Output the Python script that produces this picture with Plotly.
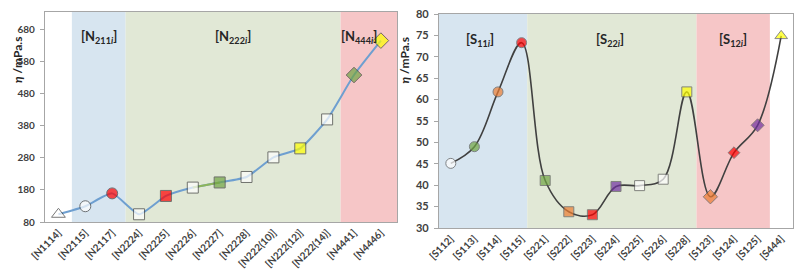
import plotly.graph_objects as go

# ---- data: left panel (ammonium ILs) ----
n_cats = ["[N1114]", "[N2115]", "[N2117]", "[N2224]", "[N2225]", "[N2226]", "[N2227]",
          "[N2228]", "[N222(10)]", "[N222(12)]", "[N222(14)]", "[N4441]", "[N4446]"]
n_eta = [104, 129, 169, 104, 161, 187, 203, 220, 281, 309, 399, 537, 644]

# ---- data: right panel (sulfonium ILs) ----
s_cats = ["[S112]", "[S113]", "[S114]", "[S115]", "[S221]", "[S222]", "[S223]", "[S224]",
          "[S225]", "[S226]", "[S228]", "[S123]", "[S124]", "[S125]", "[S444]"]
s_eta = [45.1, 49.0, 61.8, 73.3, 41.1, 33.8, 33.1, 39.7, 39.9, 41.4, 61.8, 37.3, 47.6, 54.0, 74.9]

# group labels
n_groups = ["[N<sub>211<i>i</i></sub>]", "[N<sub>222<i>i</i></sub>]", "[N<sub>444<i>i</i></sub>]"]
s_groups = ["[S<sub>11<i>i</i></sub>]", "[S<sub>22<i>i</i></sub>]", "[S<sub>12<i>i</i></sub>]"]

# ---- styles ----
WHITE, RED, GREEN, YELLOW, ORANGE, PURPLE = "#FFFFFF", "#FF0000", "#70A543", "#FFFF00", "#ED7D31", "#7030A0"
n_colors = [WHITE, WHITE, RED, WHITE, RED, WHITE, GREEN, WHITE, WHITE, YELLOW, WHITE, GREEN, YELLOW]
n_symbols = ["triangle-up", "circle", "circle", "square", "square", "square", "square", "square",
             "square", "square", "square", "diamond", "diamond"]
n_sizes = [12, 11, 11, 11, 11, 11, 11, 11, 11, 11, 11, 12, 12]
s_colors = [WHITE, GREEN, ORANGE, RED, GREEN, ORANGE, RED, PURPLE, WHITE, WHITE, YELLOW,
            ORANGE, RED, PURPLE, YELLOW]
s_symbols = ["circle", "circle", "circle", "circle", "square", "square", "square", "square",
             "square", "square", "square", "diamond", "diamond", "diamond", "triangle-up"]
s_sizes = [10, 10, 10, 10, 10, 10, 10, 10, 10, 10, 10, 11, 9, 10, 11]

BLUE_BG, GREEN_BG, RED_BG = "#D7E5F0", "#E1E8D6", "#F6C6C7"
FONT = "Lato"
TXT = "#404040"

fig = go.Figure()

# left line (smoothed) + green segment
fig.add_trace(go.Scatter(x=n_cats, y=n_eta, mode="lines", xaxis="x", yaxis="y",
                         line=dict(color="#6E9FD0", width=2, shape="spline", smoothing=0.5),
                         hoverinfo="skip", showlegend=False))
fig.add_trace(go.Scatter(x=n_cats[5:7], y=n_eta[5:7], mode="lines", xaxis="x", yaxis="y",
                         line=dict(color="#8DB55A", width=2), hoverinfo="skip", showlegend=False))
fig.add_trace(go.Scatter(x=n_cats, y=n_eta, mode="markers", xaxis="x", yaxis="y",
                         marker=dict(color=n_colors, symbol=n_symbols, size=n_sizes,
                                     line=dict(color="#404040", width=1)),
                         cliponaxis=False, showlegend=False))

# right line (smoothed)
fig.add_trace(go.Scatter(x=s_cats, y=s_eta, mode="lines", xaxis="x2", yaxis="y2",
                         line=dict(color="#404040", width=1.6, shape="spline", smoothing=1.0),
                         hoverinfo="skip", showlegend=False))
fig.add_trace(go.Scatter(x=s_cats, y=s_eta, mode="markers", xaxis="x2", yaxis="y2",
                         marker=dict(color=s_colors, symbol=s_symbols, size=s_sizes,
                                     line=dict(color="#595959", width=1)),
                         cliponaxis=False, showlegend=False))

shapes = []
for x0, x1, c in [(0.5, 2.5, BLUE_BG), (2.5, 10.5, GREEN_BG), (10.5, 12.6, RED_BG)]:
    shapes.append(dict(type="rect", xref="x", yref="y domain", x0=x0, x1=x1, y0=0, y1=1,
                       fillcolor=c, line=dict(width=0), layer="below"))
for x0, x1, c in [(-0.5, 3.24, BLUE_BG), (3.24, 10.41, GREEN_BG), (10.41, 13.52, RED_BG)]:
    shapes.append(dict(type="rect", xref="x2", yref="y2 domain", x0=x0, x1=x1, y0=0, y1=1,
                       fillcolor=c, line=dict(width=0), layer="below"))

annotations = []
for txt, xc in zip(n_groups, [1.5, 6.5, 11.2]):
    annotations.append(dict(x=xc, y=0.935, xref="x", yref="y domain", text="<b>" + txt + "</b>",
                            showarrow=False, font=dict(family=FONT, size=13, color="#262626")))
for txt, xc in zip(s_groups, [1.23, 6.75, 11.95]):
    annotations.append(dict(x=xc, y=0.93, xref="x2", yref="y2 domain", text="<b>" + txt + "</b>",
                            showarrow=False, font=dict(family=FONT, size=13, color="#262626")))
for xp, yp in [(8 / 800, 1 - 34 / 274), (404 / 800, 1 - 35 / 274)]:
    annotations.append(dict(x=xp, y=yp, xref="paper", yref="paper", textangle=-90,
                            text="<b><i>η</i> /mPa.s</b>", showarrow=False,
                            font=dict(family=FONT, size=12, color="#262626")))

axis_common = dict(showgrid=False, zeroline=False, showline=True, linecolor="#A6A6A6",
                   linewidth=1.2, mirror=True, automargin=False)
ltickfont = dict(family=FONT, size=10, color=TXT, weight="bold")
rtickfont = dict(family=FONT, size=11, color=TXT, weight="bold")
xtickfont = dict(family=FONT, size=10, color=TXT, weight="bold")

fig.update_layout(
    width=800, height=274, margin=dict(l=0, r=0, t=0, b=0),
    paper_bgcolor="white", plot_bgcolor="white",
    shapes=shapes, annotations=annotations,
    xaxis=dict(domain=[45 / 800, 397 / 800], range=[-0.5, 12.6], tickangle=-45,
               tickfont=xtickfont, ticks="", anchor="y", **axis_common),
    yaxis=dict(domain=[1 - 222 / 274, 1 - 12 / 274], range=[80, 733], tickvals=[80, 180, 280, 380, 480, 580, 680],
               tickfont=ltickfont, ticks="outside", ticklen=4, tickcolor="#A6A6A6", anchor="x",
               ticklabelstandoff=3, **axis_common),
    xaxis2=dict(domain=[439 / 800, 793 / 800], range=[-0.5, 14.5], tickangle=-45,
                tickfont=xtickfont, ticks="", anchor="y2", **axis_common),
    yaxis2=dict(domain=[1 - 228 / 274, 1 - 14 / 274], range=[30, 80], dtick=5,
                tickfont=rtickfont, ticks="outside", ticklen=4, tickcolor="#A6A6A6", anchor="x2",
                ticklabelstandoff=3, **axis_common),
)

fig.write_html("out.html", config={"displayModeBar": False},
               post_script="document.body.style.margin='0px';document.body.style.padding='0px';")
